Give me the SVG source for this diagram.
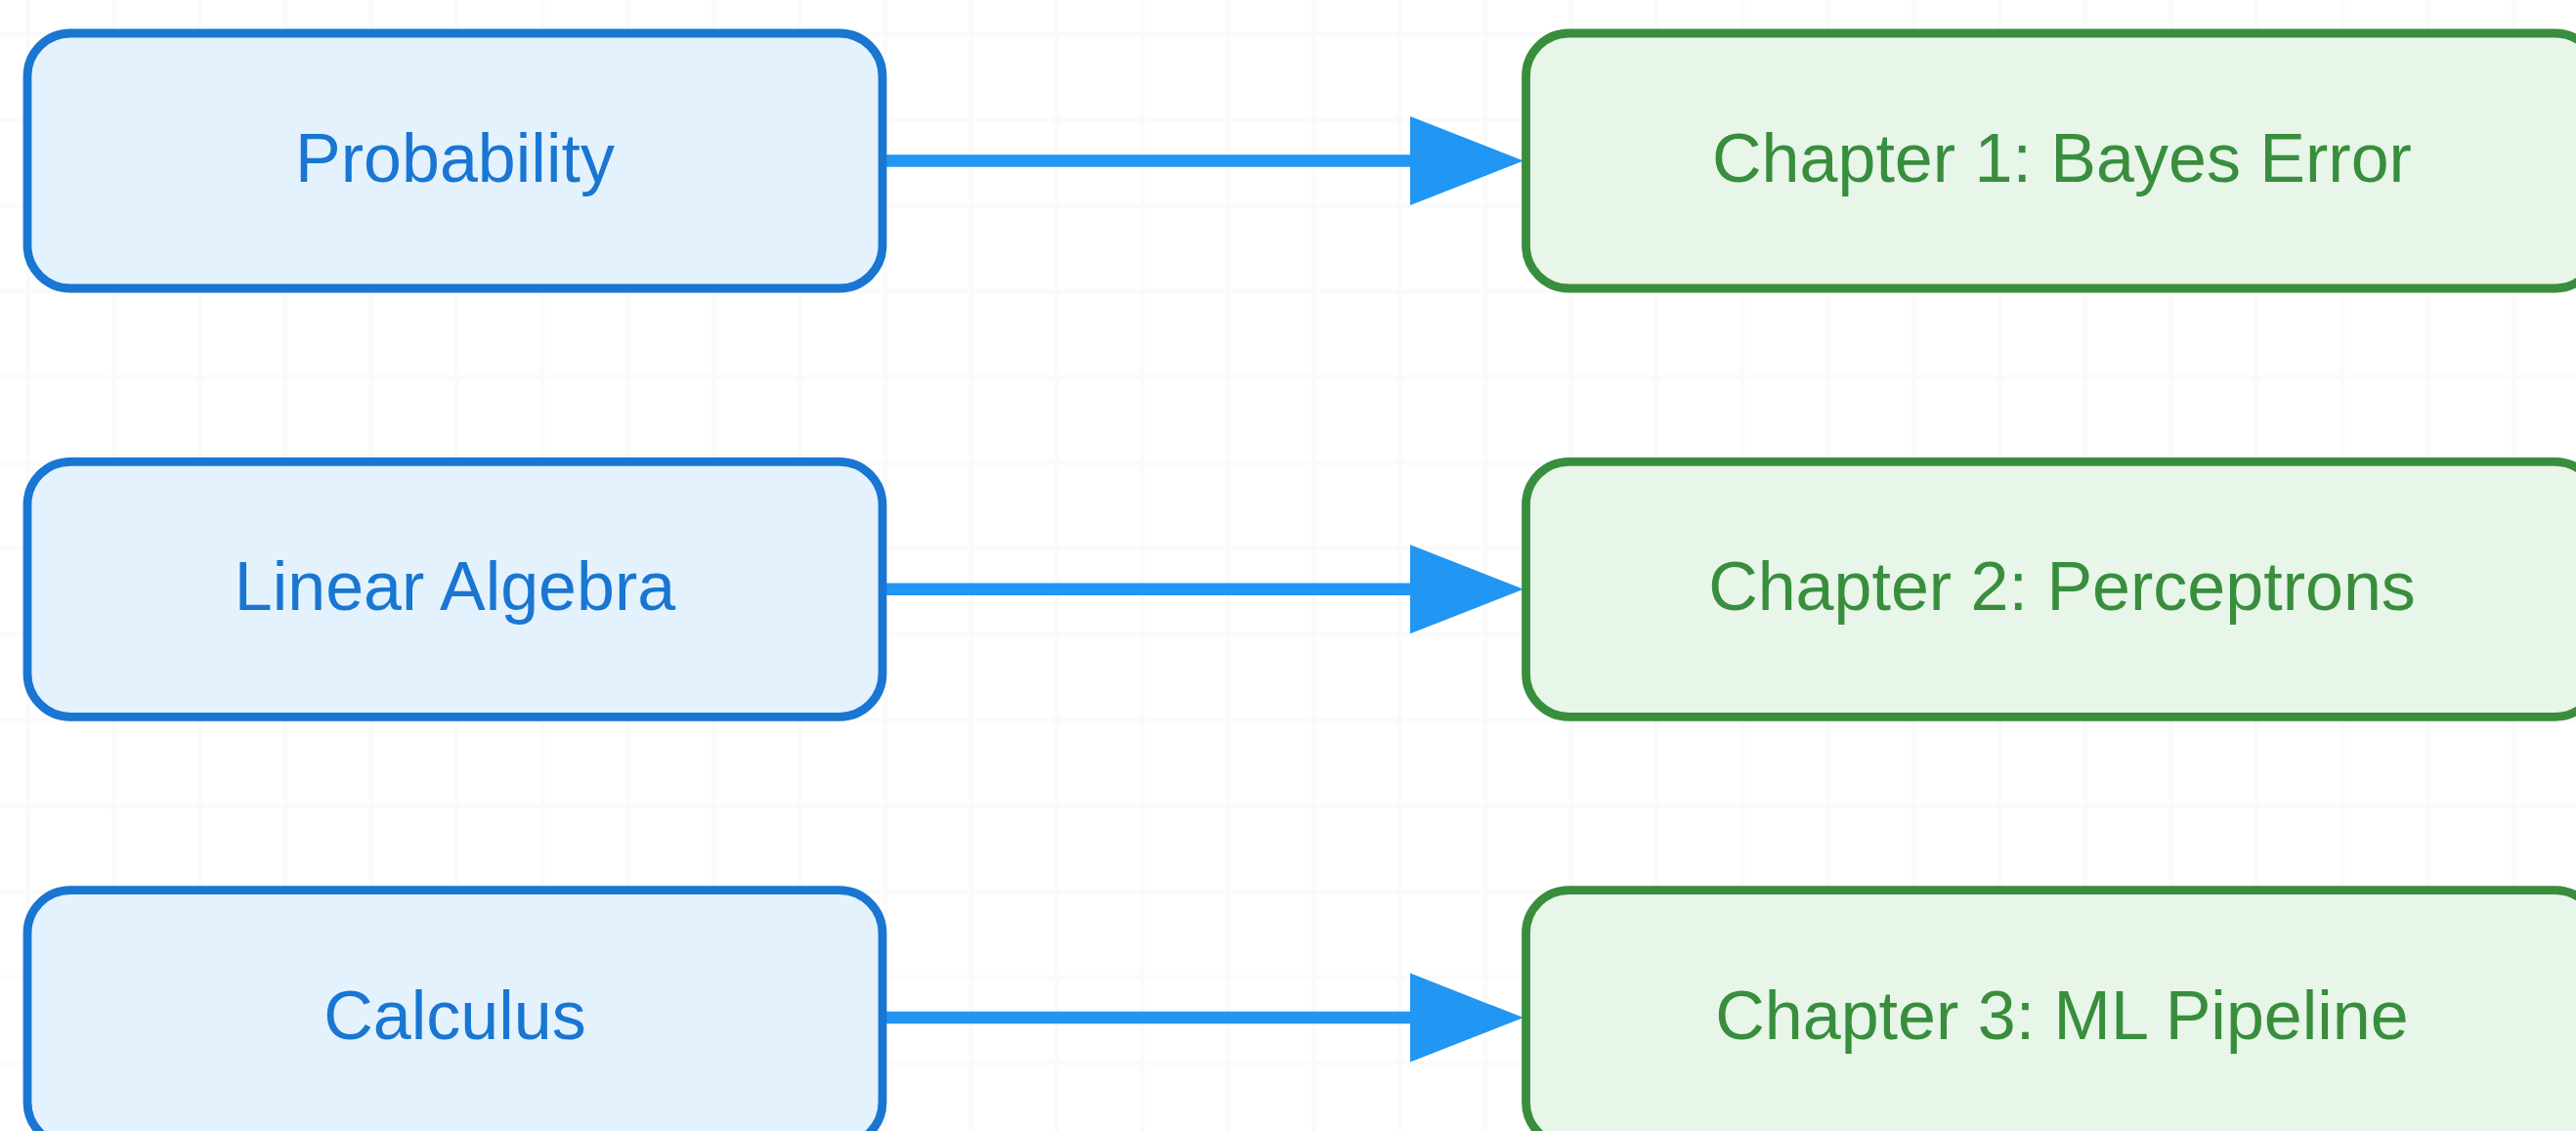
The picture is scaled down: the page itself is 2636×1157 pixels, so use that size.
<svg xmlns="http://www.w3.org/2000/svg" width="2636" height="1157" viewBox="0 0 2636 1157">
  <style>
    .src rect { fill: #E3F2FD; stroke: #1976D2; stroke-width: 8.8; }
    .src text { fill: #1976D2; }
    .dst rect { fill: #E8F5E9; stroke: #388E3C; stroke-width: 8.8; }
    .dst text { fill: #388E3C; }
    text { font-family: "Liberation Sans", Arial, sans-serif; font-size: 70px; text-anchor: middle; }
    .edge { stroke: #2196F3; stroke-width: 12.5; fill: none; }
    .head { fill: #2196F3; }
  </style>
  <defs>
    <pattern id="grid" patternUnits="userSpaceOnUse" x="-14.85" y="-8.85" width="87.7" height="87.7">
      <path d="M43.85 0V87.7M0 43.85H87.7" stroke="#fafafa" stroke-width="4.4" fill="none"/>
    </pattern>
  </defs>
  <rect x="0" y="0" width="2636" height="1157" fill="#ffffff"/>
  <rect x="0" y="0" width="2636" height="1157" fill="url(#grid)"/>

  <g id="connectors">
    <line class="edge" x1="903" y1="164.5" x2="1450" y2="164.5"/>
    <polygon class="head" points="1443,119 1559,164.5 1443,210"/>
    <line class="edge" x1="903" y1="602.8" x2="1450" y2="602.8"/>
    <polygon class="head" points="1443,557.3 1559,602.8 1443,648.3"/>
    <line class="edge" x1="903" y1="1041.1" x2="1450" y2="1041.1"/>
    <polygon class="head" points="1443,995.6 1559,1041.1 1443,1086.6"/>
  </g>

  <g id="probability" class="src">
    <rect x="28" y="34" width="875" height="261" rx="44" ry="44"/>
    <text x="465.5" y="186">Probability</text>
  </g>
  <g id="linear-algebra" class="src">
    <rect x="28" y="472.3" width="875" height="261" rx="44" ry="44"/>
    <text x="465.5" y="624.3">Linear Algebra</text>
  </g>
  <g id="calculus" class="src">
    <rect x="28" y="910.6" width="875" height="261" rx="44" ry="44"/>
    <text x="465.5" y="1062.6">Calculus</text>
  </g>

  <g id="chapter1" class="dst">
    <rect x="1561.5" y="34" width="1097" height="261" rx="44" ry="44"/>
    <text x="2110" y="186">Chapter 1: Bayes Error</text>
  </g>
  <g id="chapter2" class="dst">
    <rect x="1561.5" y="472.3" width="1097" height="261" rx="44" ry="44"/>
    <text x="2110" y="624.3">Chapter 2: Perceptrons</text>
  </g>
  <g id="chapter3" class="dst">
    <rect x="1561.5" y="910.6" width="1097" height="261" rx="44" ry="44"/>
    <text x="2110" y="1062.6">Chapter 3: ML Pipeline</text>
  </g>
</svg>
